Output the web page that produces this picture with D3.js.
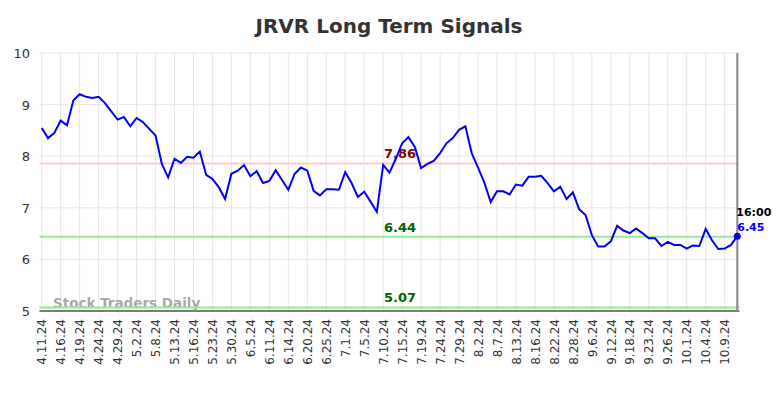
<!DOCTYPE html>
<html>
<head>
<meta charset="utf-8">
<script src="https://cdn.jsdelivr.net/npm/d3@7"></script>
<style>
  body { margin: 0; background: #fff; }
  svg { font-family: "DejaVu Sans", sans-serif; }
</style>
</head>
<body>
<svg width="784" height="398"></svg>
<script>
const dates = [
  "4.11.24","4.12.24","4.15.24","4.16.24","4.17.24","4.18.24","4.19.24","4.22.24","4.23.24","4.24.24",
  "4.25.24","4.26.24","4.29.24","4.30.24","5.1.24","5.2.24","5.3.24","5.6.24","5.8.24","5.9.24",
  "5.10.24","5.13.24","5.14.24","5.15.24","5.16.24","5.17.24","5.21.24","5.23.24","5.24.24","5.28.24",
  "5.30.24","5.31.24","6.3.24","6.5.24","6.6.24","6.10.24","6.11.24","6.12.24","6.13.24","6.14.24",
  "6.17.24","6.18.24","6.20.24","6.21.24","6.24.24","6.25.24","6.26.24","6.28.24","7.1.24","7.2.24",
  "7.3.24","7.5.24","7.8.24","7.9.24","7.10.24","7.11.24","7.12.24","7.15.24","7.16.24","7.17.24",
  "7.19.24","7.22.24","7.23.24","7.24.24","7.25.24","7.26.24","7.29.24","7.30.24","8.1.24","8.2.24",
  "8.5.24","8.6.24","8.7.24","8.8.24","8.12.24","8.13.24","8.14.24","8.15.24","8.16.24","8.19.24",
  "8.21.24","8.22.24","8.23.24","8.27.24","8.28.24","8.30.24","9.4.24","9.6.24","9.9.24","9.11.24",
  "9.12.24","9.13.24","9.16.24","9.18.24","9.19.24","9.20.24","9.23.24","9.24.24","9.25.24","9.26.24",
  "9.27.24","9.30.24","10.1.24","10.2.24","10.3.24","10.4.24","10.7.24","10.8.24","10.9.24","10.10.24",
  "10.11.24"
];
const prices = [
  8.545,8.35,8.45,8.69,8.60,9.08,9.20,9.15,9.13,9.15,
  9.03,8.87,8.71,8.76,8.58,8.74,8.66,8.53,8.40,7.85,
  7.59,7.95,7.87,7.99,7.97,8.09,7.64,7.56,7.40,7.17,
  7.66,7.72,7.83,7.61,7.71,7.48,7.52,7.73,7.54,7.35,
  7.66,7.78,7.72,7.33,7.24,7.36,7.36,7.35,7.69,7.48,
  7.21,7.31,7.12,6.92,7.83,7.68,7.95,8.25,8.37,8.18,
  7.77,7.85,7.91,8.06,8.25,8.35,8.51,8.58,8.06,7.78,
  7.49,7.11,7.32,7.32,7.26,7.45,7.43,7.60,7.60,7.62,
  7.48,7.32,7.41,7.17,7.30,6.97,6.86,6.47,6.25,6.25,
  6.35,6.65,6.56,6.51,6.60,6.51,6.41,6.41,6.26,6.34,
  6.28,6.28,6.21,6.27,6.26,6.59,6.37,6.20,6.21,6.28,
  6.45
];
const tickLabels = [
  "4.11.24","4.16.24","4.19.24","4.24.24","4.29.24","5.2.24","5.8.24","5.13.24","5.16.24","5.23.24",
  "5.30.24","6.5.24","6.11.24","6.14.24","6.20.24","6.25.24","7.1.24","7.5.24","7.10.24","7.15.24",
  "7.19.24","7.24.24","7.29.24","8.2.24","8.7.24","8.13.24","8.16.24","8.22.24","8.28.24","9.6.24",
  "9.12.24","9.18.24","9.23.24","9.26.24","10.1.24","10.4.24","10.9.24"
];
const yTicks = [5, 6, 7, 8, 9, 10];
const levels = [
  {value: 7.86, line: "#ffcccc", text: "#8b0000"},
  {value: 6.44, line: "#90ee90", text: "#006400"},
  {value: 5.07, line: "#90ee90", text: "#006400"}
];
const lastTime = "16:00";

const svg = d3.select("svg");
const plotLeft = 39.5, plotRight = 739.5, plotTop = 53, plotBottom = 311;

const x = d3.scalePoint().domain(dates).range([plotLeft, plotRight]).padding(0.35);
const y = d3.scaleLinear().domain([5, 10]).range([plotBottom, plotTop]);

// title
svg.append("text")
  .attr("x", 389).attr("y", 33)
  .attr("text-anchor", "middle")
  .attr("font-size", 20).attr("font-weight", "bold")
  .attr("fill", "#333")
  .text("JRVR Long Term Signals");

// grid
svg.append("g").selectAll("line").data(yTicks).join("line")
  .attr("x1", plotLeft).attr("x2", plotRight)
  .attr("y1", d => y(d)).attr("y2", d => y(d))
  .attr("stroke", "#e6e6e6").attr("stroke-width", 1);
svg.append("g").selectAll("line").data(tickLabels).join("line")
  .attr("x1", d => x(d)).attr("x2", d => x(d))
  .attr("y1", plotTop).attr("y2", plotBottom)
  .attr("stroke", "#e6e6e6").attr("stroke-width", 1);

// y labels
svg.append("g").selectAll("text").data(yTicks).join("text")
  .attr("x", 30).attr("y", d => y(d) + 5)
  .attr("text-anchor", "end")
  .attr("font-size", 13).attr("fill", "#333")
  .text(d => d);

// x axis
const xAxis = svg.append("g")
  .attr("transform", `translate(0,${plotBottom})`)
  .call(d3.axisBottom(x).tickValues(tickLabels).tickSize(0).tickPadding(0));
xAxis.select(".domain").remove();
xAxis.selectAll("text")
  .attr("font-family", "DejaVu Sans, sans-serif")
  .attr("font-size", 12).attr("fill", "#333")
  .attr("transform", "rotate(-90)")
  .attr("text-anchor", "end")
  .attr("x", -8).attr("y", 0).attr("dy", "0.35em");

svg.append("line")
  .attr("x1", plotLeft).attr("x2", plotRight)
  .attr("y1", plotBottom).attr("y2", plotBottom)
  .attr("stroke", "#555").attr("stroke-width", 1.5);

// watermark
svg.append("text")
  .attr("x", 53).attr("y", 308)
  .attr("font-size", 13.5).attr("font-weight", "bold")
  .attr("fill", "#999").attr("fill-opacity", 0.85)
  .text("Stock Traders Daily");

// level lines
svg.append("g").selectAll("line").data(levels).join("line")
  .attr("x1", plotLeft).attr("x2", plotRight)
  .attr("y1", d => y(d.value)).attr("y2", d => y(d.value))
  .attr("stroke", d => d.line).attr("stroke-width", 2);
svg.append("g").selectAll("text").data(levels).join("text")
  .attr("x", 400).attr("y", d => y(d.value) - 5)
  .attr("text-anchor", "middle")
  .attr("font-size", 13).attr("font-weight", "bold")
  .attr("fill", d => d.text)
  .text(d => d.value.toFixed(2));

// right marker
const lastDate = dates[dates.length - 1];
const lastVal = prices[prices.length - 1];
svg.append("line")
  .attr("x1", x(lastDate)).attr("x2", x(lastDate))
  .attr("y1", plotTop).attr("y2", plotBottom)
  .attr("stroke", "#888").attr("stroke-width", 2);

// price line
const line = d3.line()
  .x((d, i) => x(dates[i]))
  .y(d => y(d));
svg.append("path")
  .attr("d", line(prices))
  .attr("fill", "none")
  .attr("stroke", "#0000ff")
  .attr("stroke-width", 2);

svg.append("circle")
  .attr("cx", x(lastDate)).attr("cy", y(lastVal))
  .attr("r", 3.5).attr("fill", "#0000ff");
svg.append("text")
  .attr("x", x(lastDate) - 1).attr("y", y(lastVal) - 20)
  .attr("font-size", 11).attr("font-weight", "bold").attr("fill", "#000")
  .text(lastTime);
svg.append("text")
  .attr("x", x(lastDate)).attr("y", y(lastVal) - 5)
  .attr("font-size", 11).attr("font-weight", "bold").attr("fill", "#0000ff")
  .text(lastVal.toFixed(2));
</script>
</body>
</html>
